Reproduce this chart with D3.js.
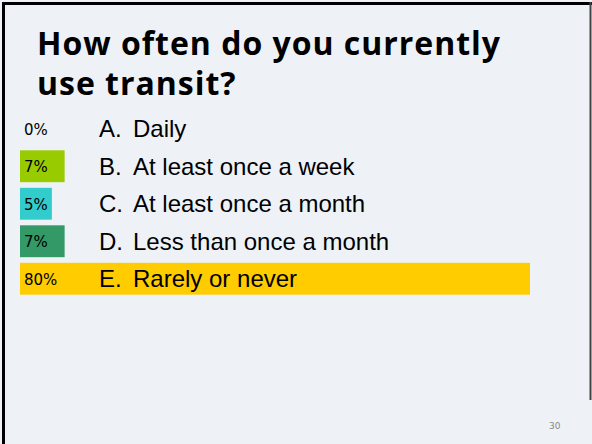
<!DOCTYPE html>
<html><head><meta charset="utf-8">
<script src="https://cdn.jsdelivr.net/npm/d3@7/dist/d3.min.js"></script>
<style>html,body{margin:0;padding:0;background:#eef2f6;overflow:hidden}</style>
</head><body>
<script>
const title = ["How often do you currently", "use transit?"];
const letters = ["A.", "B.", "C.", "D.", "E."];
const categories = ["Daily", "At least once a week", "At least once a month", "Less than once a month", "Rarely or never"];
const values = [0, 7, 5, 7, 80];
const colors = ["#99cc00", "#99cc00", "#33cccc", "#339966", "#ffcc00"];
const slideNumber = "30";

const W = 592, H = 444;
const svg = d3.select("body").append("svg").attr("width", W).attr("height", H);
svg.append("rect").attr("width", W).attr("height", H).attr("fill", "#eef2f6");

// frame
svg.append("line").attr("x1", 3.5).attr("x2", 3.5).attr("y1", 2).attr("y2", H).attr("stroke", "#000").attr("stroke-width", 3);
svg.append("line").attr("x1", 2).attr("x2", W).attr("y1", 3.5).attr("y2", 3.5).attr("stroke", "#000").attr("stroke-width", 3);
svg.append("line").attr("x1", 590.5).attr("x2", 590.5).attr("y1", 2).attr("y2", 400).attr("stroke", "#444").attr("stroke-width", 2);

// title
const tfont = "'Open Sans', Lato, sans-serif";
const t1 = svg.append("text").attr("x", 37).attr("y", 55).text(title[0])
  .attr("font-family", tfont).attr("font-weight", "bold").attr("font-size", 32).attr("fill", "#000");
const w1 = t1.node().getComputedTextLength();
const ls = (463 - w1) / (title[0].length - 1);
t1.attr("letter-spacing", ls);
svg.append("text").attr("x", 37).attr("y", 95).text(title[1])
  .attr("font-family", tfont).attr("font-weight", "bold").attr("font-size", 32).attr("fill", "#000")
  .attr("letter-spacing", ls);

// scales
const x = d3.scaleLinear().domain([0, 80]).range([20, 530]);
const y = d3.scaleBand().domain(d3.range(values.length)).range([110, 297.5]).paddingInner(0.15).paddingOuter(0.075);

const rows = svg.append("g").selectAll("g").data(values).join("g");
rows.append("rect")
  .attr("x", x(0)).attr("y", (d, i) => y(i))
  .attr("width", d => x(d) - x(0)).attr("height", y.bandwidth())
  .attr("fill", (d, i) => colors[i]);
rows.append("text")
  .attr("x", 24).attr("y", (d, i) => y(i) + y.bandwidth() / 2 + 6)
  .attr("font-family", "'DejaVu Sans', sans-serif").attr("font-size", 15).attr("fill", "#000")
  .text(d => d + "%");
rows.append("text")
  .attr("x", 99).attr("y", (d, i) => y(i) + y.bandwidth() / 2 + 8.5)
  .attr("font-family", "'Liberation Sans', Arial, sans-serif").attr("font-size", 24).attr("fill", "#000")
  .text((d, i) => letters[i]);
rows.append("text")
  .attr("x", 133).attr("y", (d, i) => y(i) + y.bandwidth() / 2 + 8.5)
  .attr("font-family", "'Liberation Sans', Arial, sans-serif").attr("font-size", 24).attr("fill", "#000")
  .text((d, i) => categories[i]);

svg.append("text").attr("x", 549).attr("y", 429).attr("font-family", "'DejaVu Sans', sans-serif")
  .attr("font-size", 9).attr("fill", "#888").text(slideNumber);
</script>
</body></html>
